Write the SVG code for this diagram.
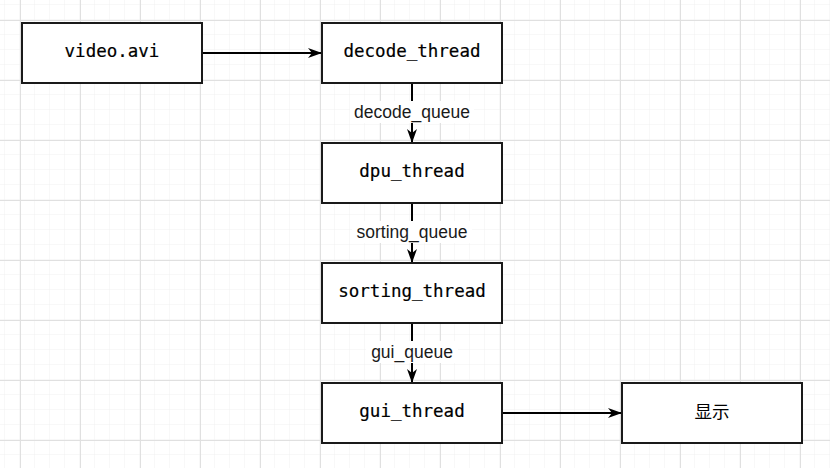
<svg xmlns="http://www.w3.org/2000/svg" width="830" height="468" viewBox="0 0 830 468">
<defs>
<pattern id="minor" x="5" y="5" width="15" height="15" patternUnits="userSpaceOnUse">
<path d="M15 0V15M0 15H15" fill="none" stroke="#f0f0f0" stroke-width="1"/>
</pattern>
<pattern id="major" x="20" y="20" width="60" height="60" patternUnits="userSpaceOnUse">
<path d="M0.5 0V60M0 0.5H60" fill="none" stroke="#e0e0e0" stroke-width="1"/>
</pattern>
<marker id="arr" viewBox="0 0 14 10" refX="13" refY="5" markerWidth="14" markerHeight="10" markerUnits="userSpaceOnUse" orient="auto">
<path d="M0 0L14 5L0 10L4 5Z" fill="#000"/>
</marker>
<style>
.box{fill:#fff;stroke:#1a1a1a;stroke-width:2}
.t{font-family:"DejaVu Sans Mono","Liberation Mono",monospace;font-size:17.5px;text-anchor:middle;fill:#000;stroke:#000;stroke-width:0.2}
.c{font-family:"Liberation Sans","Noto Sans CJK SC",sans-serif;font-size:17.5px;text-anchor:middle;fill:#000}
.lbl{font-family:"Liberation Sans",Arial,sans-serif;font-size:17.5px;text-anchor:middle;fill:#1a1a1a}
.edge{fill:none;stroke:#000;stroke-width:2;marker-end:url(#arr)}
</style>
</defs>
<rect width="830" height="468" fill="#fff"/>
<rect width="830" height="468" fill="url(#minor)"/>
<rect width="830" height="468" fill="url(#major)"/>
<g id="edges">
<path class="edge" d="M202 53H321"/>
<path class="edge" d="M412 83V142"/>
<path class="edge" d="M412 203V262"/>
<path class="edge" d="M412 323V382"/>
<path class="edge" d="M502 413H621"/>
<rect x="350" y="101" width="124" height="22" fill="#fff"/>
<text class="lbl" x="412" y="118">decode_queue</text>
<rect x="352" y="221" width="120" height="22" fill="#fff"/>
<text class="lbl" x="412" y="238">sorting_queue</text>
<rect x="366" y="341" width="92" height="22" fill="#fff"/>
<text class="lbl" x="412" y="358">gui_queue</text>
</g>
<g id="video"><rect class="box" x="22" y="23" width="180" height="60"/><text class="t" x="112" y="57">video.avi</text></g>
<g id="decode_thread"><rect class="box" x="322" y="23" width="180" height="60"/><text class="t" x="412" y="57">decode_thread</text></g>
<g id="dpu_thread"><rect class="box" x="322" y="143" width="180" height="60"/><text class="t" x="412" y="177">dpu_thread</text></g>
<g id="sorting_thread"><rect class="box" x="322" y="263" width="180" height="60"/><text class="t" x="412" y="297">sorting_thread</text></g>
<g id="gui_thread"><rect class="box" x="322" y="383" width="180" height="60"/><text class="t" x="412" y="417">gui_thread</text></g>
<g id="display"><rect class="box" x="622" y="383" width="180" height="60"/><text class="c" x="712" y="418">显示</text></g>
</svg>
